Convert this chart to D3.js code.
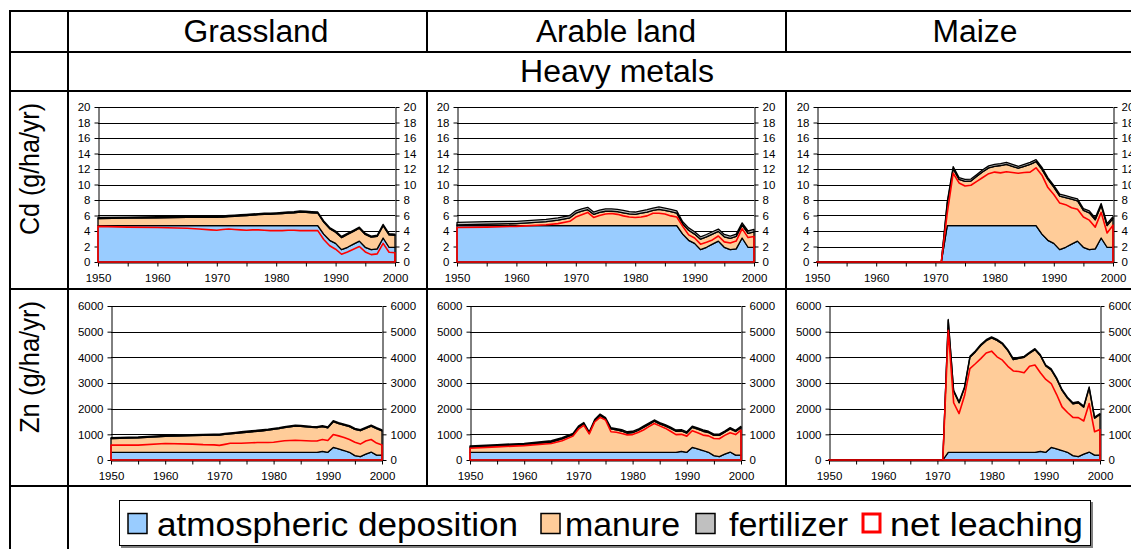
<!DOCTYPE html>
<html><head><meta charset="utf-8">
<script src="https://cdn.jsdelivr.net/npm/d3@7"></script>
<style>body{margin:0;background:#fff}svg{display:block}text{font-family:Arial,"Liberation Sans",sans-serif}</style>
</head><body><svg id="c" width="1131" height="549"></svg>
<script>
// ---------- data ----------
const years = [1950,1955,1960,1965,1967,1969,
  1970,1971,1972,1973,1974,1975,1976,1977,1978,1979,1980,1981,1982,1983,1984,1985,1986,1987,
  1988,1989,1990,1991,1992,1993,1994,1995,1996,1997,1998,1999,2000];
const columnTitles = ["Grassland","Arable land","Maize"];
const sectionTitle = "Heavy metals";
const rowLabels = ["Cd (g/ha/yr)","Zn (g/ha/yr)"];
const seriesNames = ["atmospheric deposition","manure","fertilizer","net leaching"];
const cdTicks = [0,2,4,6,8,10,12,14,16,18,20];
const znTicks = [0,1000,2000,3000,4000,5000,6000];
const xTicks = [1950,1955,1960,1965,1970,1975,1980,1985,1990,1995,2000];
const xLabelTicks = [1950,1960,1970,1980,1990,2000];

// Cd (g/ha/yr)
const cdAtm = [4.7,4.7,4.7,4.7,4.7,4.7,
  4.7,4.7,4.7,4.7,4.7,4.7,4.7,4.7,4.7,4.7,4.7,4.7,4.7,4.7,4.7,4.7,4.7,4.7,
  3.6,2.8,2.4,1.6,1.9,2.3,2.7,1.9,1.6,1.7,3.1,1.9,1.9];
const cdAtmMaize = [0,0,0,0,0,0,
  0,0,4.7,4.7,4.7,4.7,4.7,4.7,4.7,4.7,4.7,4.7,4.7,4.7,4.7,4.7,4.7,4.7,
  3.6,2.8,2.4,1.6,1.9,2.3,2.7,1.9,1.6,1.7,3.1,1.9,1.9];
const cdGrassManure = [0.9,0.95,1.0,1.05,1.05,1.05,
  1.05,1.1,1.15,1.2,1.25,1.3,1.35,1.4,1.45,1.45,1.5,1.55,1.6,1.65,1.75,1.7,1.65,1.6,
  1.55,1.5,1.45,1.55,1.65,1.65,1.65,1.65,1.6,1.6,1.6,1.6,1.55];
const cdGrassFert = [0.15,0.15,0.15,0.15,0.15,0.15,
  0.15,0.15,0.15,0.15,0.15,0.15,0.15,0.15,0.15,0.15,0.15,0.15,0.15,0.15,0.15,0.15,0.15,0.15,
  0.15,0.15,0.15,0.15,0.15,0.15,0.15,0.15,0.15,0.15,0.15,0.15,0.15];
const cdGrassLeach = [4.6,4.5,4.45,4.35,4.25,4.15,
  4.1,4.2,4.25,4.2,4.15,4.1,4.15,4.15,4.1,4.05,4.05,4.05,4.1,4.1,4.05,4.05,4.05,4.05,
  2.9,2.1,1.65,1.0,1.3,1.65,2.0,1.3,0.95,1.05,2.4,1.25,1.2];
const cdArableManure = [0.1,0.2,0.25,0.5,0.7,1.0,
  1.6,1.85,2.05,1.45,1.7,1.85,1.85,1.8,1.65,1.5,1.45,1.6,1.75,1.95,2.1,1.95,1.8,1.6,
  1.3,1.3,1.2,1.35,1.35,1.3,1.25,1.35,1.45,1.6,1.65,1.8,2.0];
const cdArableFert = [0.3,0.3,0.3,0.3,0.3,0.3,
  0.3,0.3,0.3,0.3,0.3,0.3,0.3,0.3,0.3,0.3,0.3,0.3,0.3,0.3,0.3,0.3,0.3,0.3,
  0.3,0.3,0.3,0.3,0.3,0.3,0.3,0.3,0.3,0.3,0.3,0.3,0.3];
const cdArableLeach = [4.45,4.5,4.6,4.8,4.95,5.25,
  5.8,6.1,6.4,5.75,6.0,6.2,6.25,6.15,5.95,5.8,5.75,5.8,5.95,6.3,6.3,6.2,5.95,5.8,
  4.6,3.5,3.1,2.3,2.55,2.85,3.35,2.6,2.45,2.7,4.3,3.15,3.3];
const cdMaizeManure = [0,0,0,0,0,0,
  0,0,2.85,7.35,5.95,5.7,5.75,6.35,6.95,7.45,7.65,7.75,7.9,7.65,7.4,7.65,7.9,8.25,
  8.35,7.85,7.25,6.9,6.4,5.8,5.2,4.75,4.75,3.75,4.2,2.8,3.7];
const cdMaizeFert = [0,0,0,0,0,0,
  0,0,0.25,0.25,0.25,0.25,0.25,0.25,0.25,0.25,0.25,0.25,0.25,0.25,0.25,0.25,0.25,0.25,
  0.25,0.25,0.25,0.25,0.25,0.25,0.25,0.25,0.25,0.25,0.25,0.25,0.25];
const cdMaizeLeach = [0,0,0,0,0,0,
  0,0,6.3,11.45,10.2,9.8,9.9,10.4,10.9,11.4,11.6,11.5,11.65,11.55,11.45,11.55,11.6,12.15,
  11.2,9.6,8.7,7.6,7.4,7.0,6.8,5.8,5.4,4.5,6.4,3.75,4.75];

// Zn (g/ha/yr)
const znAtm = [300,300,300,300,300,300,
  300,300,300,300,300,300,300,300,300,300,300,300,300,300,300,300,300,300,
  300,340,300,490,430,370,300,170,130,230,310,190,190];
const znAtmMaize = [0,0,0,0,0,0,
  0,0,300,300,300,300,300,300,300,300,300,300,300,300,300,300,300,300,
  300,340,300,490,430,370,300,170,130,230,310,190,190];
const znGrassManure = [530,560,620,650,660,670,
  670,700,720,740,760,780,800,820,840,860,890,920,960,990,1020,1010,990,970,
  960,960,950,1000,990,990,1000,1020,1010,1000,1010,1030,940];
const znGrassFert = [40,40,40,40,40,40,
  40,40,40,40,40,40,40,40,40,40,40,40,40,40,40,40,40,40,
  40,40,40,40,40,40,40,40,40,40,40,40,40];
const znGrassLeach = [580,580,640,620,600,590,
  570,610,650,650,650,660,670,680,680,680,690,720,750,760,770,760,750,740,
  740,800,760,990,940,880,800,690,620,740,800,660,580];
const znArableManure = [200,250,300,400,520,690,
  970,1110,750,1230,1440,1300,910,870,830,750,770,850,970,1090,1210,1110,1030,930,
  820,790,750,780,770,750,770,790,830,850,900,920,1070];
const znArableFert = [50,50,50,50,50,50,
  50,50,50,50,50,50,50,50,50,50,50,50,50,50,50,50,50,50,
  50,50,50,50,50,50,50,50,50,50,50,50,50];
const znArableLeach = [460,510,560,640,750,930,
  1200,1350,1020,1480,1660,1560,1100,1080,1030,980,990,1070,1170,1300,1420,1330,1240,1120,
  990,1000,930,1140,1060,970,940,840,830,960,1060,990,1160];
const znMaizeManure = [0,0,0,0,0,0,
  0,0,5140,2380,1930,2510,3700,3910,4160,4350,4460,4360,4220,3960,3610,3660,3700,3860,
  4000,3720,3360,3020,2730,2340,2110,2020,2100,1830,2500,1440,1580];
const znMaizeFert = [0,0,0,0,0,0,
  0,0,40,40,40,40,40,40,40,40,40,40,40,40,40,40,40,40,
  40,40,40,40,40,40,40,40,40,40,40,40,40];
const znMaizeLeach = [0,0,0,0,0,0,
  0,0,5050,2230,1810,2500,3560,3750,3950,4170,4240,4020,3890,3650,3470,3450,3400,3650,
  3700,3400,3140,2980,2550,2070,1850,1660,1650,1520,2200,1100,1190];

// ---------- layout ----------
const colors = {atm:"#99CCFF", manure:"#FFCC99", fert:"#C0C0C0", leach:"#FF0000"};
const panels = [
  {atm:cdAtm, manure:cdGrassManure, fert:cdGrassFert, leach:cdGrassLeach, ticks:cdTicks, x0:98, x1:395, yT:107, yB:262},
  {atm:cdAtm, manure:cdArableManure, fert:cdArableFert, leach:cdArableLeach, ticks:cdTicks, x0:457, x1:754, yT:107, yB:262},
  {atm:cdAtmMaize, manure:cdMaizeManure, fert:cdMaizeFert, leach:cdMaizeLeach, ticks:cdTicks, x0:817, x1:1113, yT:107, yB:262},
  {atm:znAtm, manure:znGrassManure, fert:znGrassFert, leach:znGrassLeach, ticks:znTicks, x0:111, x1:382, yT:306, yB:460},
  {atm:znAtm, manure:znArableManure, fert:znArableFert, leach:znArableLeach, ticks:znTicks, x0:470, x1:741, yT:306, yB:460},
  {atm:znAtmMaize, manure:znMaizeManure, fert:znMaizeFert, leach:znMaizeLeach, ticks:znTicks, x0:829, x1:1100, yT:306, yB:460}
];

const svg = d3.select("#c");
svg.append("rect").attr("width",1131).attr("height",549).attr("fill","#fff");

function drawPanel(p) {
  const g = svg.append("g");
  const x = d3.scaleLinear().domain([1950,2000]).range([p.x0,p.x1]);
  const y = d3.scaleLinear().domain([0,d3.max(p.ticks)]).range([p.yB,p.yT]);
  // gridlines
  g.append("g").selectAll("line").data(p.ticks.slice(1)).join("line")
    .attr("x1",p.x0).attr("x2",p.x1)
    .attr("y1",d=>Math.round(y(d))+0.5).attr("y2",d=>Math.round(y(d))+0.5)
    .attr("stroke","#000").attr("stroke-width",1);
  // axes
  const fmt = d3.format("d");
  const left = g.append("g").attr("transform",`translate(${p.x0+0.5},0)`)
    .call(d3.axisLeft(y).tickValues(p.ticks).tickSize(4).tickSizeOuter(0).tickPadding(4).tickFormat(fmt));
  const right = g.append("g").attr("transform",`translate(${p.x1+0.5},0)`)
    .call(d3.axisRight(y).tickValues(p.ticks).tickSize(4).tickSizeOuter(0).tickPadding(4).tickFormat(fmt));
  const bottom = g.append("g").attr("transform",`translate(0,${p.yB+0.5})`)
    .call(d3.axisBottom(x).tickValues(xTicks).tickSize(4).tickSizeOuter(0).tickPadding(7)
      .tickFormat(d=>xLabelTicks.includes(d)?fmt(d):""));
  [left,right,bottom].forEach(a=>{
    a.selectAll("text").attr("font-size","11.5px").attr("fill","#000").attr("font-family",'Arial,"Liberation Sans",sans-serif');
    a.selectAll("line,path").attr("stroke","#000");
  });
  // stacked areas
  const rows = years.map((yr,i)=>({year:yr, atm:p.atm[i], manure:p.manure[i], fert:p.fert[i], leach:p.leach[i]}));
  const stacked = d3.stack().keys(["atm","manure","fert"])(rows);
  const area = d3.area().x(d=>x(d.data.year)).y0(d=>y(d[0])).y1(d=>y(d[1]));
  g.append("g").selectAll("path").data(stacked).join("path")
    .attr("d",area).attr("fill",d=>colors[d.key])
    .attr("stroke","#000").attr("stroke-width",1.3).attr("stroke-linejoin","round");
  // net leaching (unfilled area outline)
  const leachArea = d3.area().x(d=>x(d.year)).y0(y(0)).y1(d=>y(d.leach));
  g.append("path").datum(rows).attr("d",leachArea)
    .attr("fill","none").attr("stroke",colors.leach).attr("stroke-width",1.6).attr("stroke-linejoin","round");
}
panels.forEach(drawPanel);

// ---------- table frame ----------
const frame = svg.append("g").attr("stroke","#000").attr("stroke-width",2);
[[9,11,1131,11],[9,52,1131,52],[9,91,1131,91],[9,289,1131,289],[9,486,1131,486],
 [10,10,10,549],[68,10,68,549],
 [427,11,427,52],[427,91,427,486],[786,11,786,52],[786,91,786,486]]
 .forEach(l=>frame.append("line").attr("x1",l[0]).attr("y1",l[1]).attr("x2",l[2]).attr("y2",l[3]));

// headers
const headerX = [256,616,975], headerW = [145,160,85];
columnTitles.forEach((t,i)=>svg.append("text").attr("x",headerX[i]).attr("y",42)
  .attr("text-anchor","middle").attr("font-size","31px")
  .attr("textLength",headerW[i]).attr("lengthAdjust","spacingAndGlyphs").text(t));
svg.append("text").attr("x",617).attr("y",82).attr("text-anchor","middle").attr("font-size","31px")
  .attr("textLength",194).attr("lengthAdjust","spacingAndGlyphs").text(sectionTitle);

// row labels
const rowCenters = [169,367];
rowLabels.forEach((t,i)=>svg.append("text")
  .attr("transform",`translate(39,${rowCenters[i]}) rotate(-90)`)
  .attr("text-anchor","middle").attr("font-size","27px")
  .attr("textLength",132).attr("lengthAdjust","spacingAndGlyphs").text(t));

// legend
const lg = svg.append("g");
lg.append("rect").attr("x",121).attr("y",502).attr("width",972).attr("height",46).attr("fill","#808080");
lg.append("rect").attr("x",119.5).attr("y",500.5).attr("width",971).attr("height",45).attr("fill","#fff").attr("stroke","#000");
const keyX = [128,541,696,862], textX = [157,565,729,890], textW = [361,115,119,193];
const keyFill = [colors.atm, colors.manure, colors.fert, "#fff"];
seriesNames.forEach((n,i)=>{
  const red = i===3;
  lg.append("rect").attr("x",keyX[i]+ (red?1:0)).attr("y",red?514:513.5)
    .attr("width",red?17:19).attr("height",red?18:20)
    .attr("fill",keyFill[i]).attr("stroke",red?colors.leach:"#000").attr("stroke-width",red?3:1.5);
  lg.append("text").attr("x",textX[i]).attr("y",536).attr("font-size","33px")
    .attr("textLength",textW[i]).attr("lengthAdjust","spacingAndGlyphs").text(n);
});
</script>
</body></html>
